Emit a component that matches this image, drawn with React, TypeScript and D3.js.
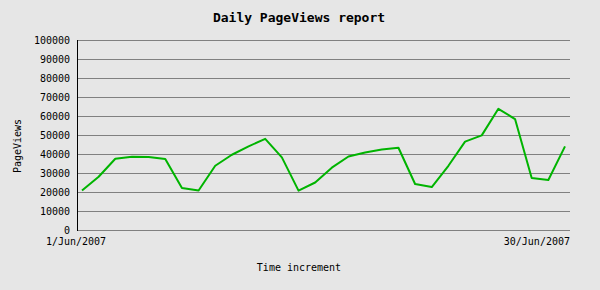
import React from "react";
import * as d3 from "d3";

const days: number[] = d3.range(1, 31);
const pageViews: number[] = [
  20800, 28000, 37500, 38500, 38400, 37400, 22100, 20800, 33800, 39600,
  44000, 48000, 38200, 20700, 25000, 32800, 38700, 40800, 42400, 43300,
  24200, 22600, 33800, 46500, 49800, 63800, 58400, 27400, 26300, 44000,
];
const yTicks: number[] = [0, 10000, 20000, 30000, 40000, 50000, 60000, 70000, 80000, 90000, 100000];
const xLabels: string[] = ["1/Jun/2007", "30/Jun/2007"];
const title = "Daily PageViews report";
const yTitle = "PageViews";
const xTitle = "Time increment";

const W = 600;
const H = 290;
const left = 77;
const right = 570;
const top = 40;
const bottom = 230;
const mono = "'DejaVu Sans Mono', 'Liberation Mono', monospace";

export default function App() {
  const x = d3.scaleLinear().domain([1, 30]).range([left + 5, right - 5]);
  const y = d3.scaleLinear().domain([0, 100000]).range([bottom, top]);
  const line = d3
    .line<number>()
    .x((_, i) => x(days[i]))
    .y((d) => y(d));

  return (
    <svg
      width={W}
      height={H}
      style={{ position: "absolute", left: 0, top: 0, display: "block" }}
    >
      <rect x={0} y={0} width={W} height={H} fill="#e6e6e6" />
      <text
        x={299}
        y={22}
        textAnchor="middle"
        fontFamily={mono}
        fontSize={13}
        fontWeight="bold"
        fill="#000"
      >
        {title}
      </text>
      {yTicks.map((t) => (
        <g key={t}>
          <line
            x1={left}
            x2={right}
            y1={Math.round(y(t)) + 0.5}
            y2={Math.round(y(t)) + 0.5}
            stroke="#808080"
            strokeWidth={1}
          />
          <text
            x={70}
            y={y(t) + 4}
            textAnchor="end"
            fontFamily={mono}
            fontSize={10}
            fill="#000"
          >
            {t}
          </text>
        </g>
      ))}
      <line x1={left + 0.5} x2={left + 0.5} y1={top} y2={bottom + 1} stroke="#000" strokeWidth={1} />
      <path d={line(pageViews) || ""} fill="none" stroke="#00b400" strokeWidth={2} strokeLinejoin="round" />
      <text x={76} y={245} textAnchor="middle" fontFamily={mono} fontSize={10} fill="#000">
        {xLabels[0]}
      </text>
      <text x={570} y={245} textAnchor="end" fontFamily={mono} fontSize={10} fill="#000">
        {xLabels[1]}
      </text>
      <text
        transform={`translate(21,146) rotate(-90)`}
        textAnchor="middle"
        fontFamily={mono}
        fontSize={10}
        fill="#000"
      >
        {yTitle}
      </text>
      <text x={299} y={271} textAnchor="middle" fontFamily={mono} fontSize={10} fill="#000">
        {xTitle}
      </text>
    </svg>
  );
}
